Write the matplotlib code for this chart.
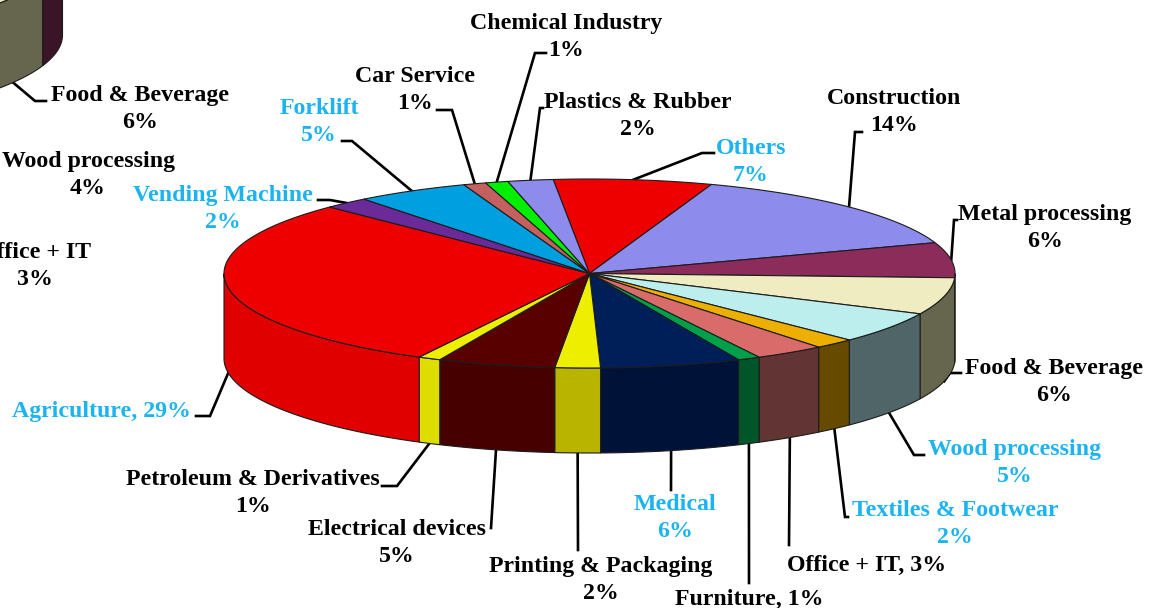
# -*- coding: utf-8 -*-
import numpy as np
import matplotlib
matplotlib.use("Agg")
import matplotlib.pyplot as plt
from matplotlib.patches import Polygon

# Main pie, clockwise from the Others slice
categories = ["Others", "Construction", "Metal processing", "Food & Beverage",
              "Wood processing", "Textiles & Footwear", "Office + IT", "Furniture",
              "Medical", "Printing & Packaging", "Electrical devices",
              "Petroleum & Derivatives", "Agriculture", "Vending Machine",
              "Forklift", "Car Service", "Chemical Industry", "Plastics & Rubber"]
shares = [7.0, 14.3, 6.0, 6.3, 5.4, 1.8, 3.1, 1.0, 6.2, 2.0, 5.2, 1.0, 29.7,
          2.0, 5.0, 1.0, 1.0, 2.0]
shown_pct = [7, 14, 6, 6, 5, 2, 3, 1, 6, 2, 5, 1, 29, 2, 5, 1, 1, 2]

# Second pie, cut off by the top left corner; only these slices show
inset_categories = ["Metal processing", "Food & Beverage"]
inset_shares = [6.0, 6.2]
extra_labels = ["Wood processing\n4%", "Office + IT\n3%"]

top_colors = ["#ee0000", "#8d8bec", "#8b2c5a", "#eeecc0", "#bdeeee", "#eeb000",
              "#da6b6b", "#00a04a", "#001e58", "#eeee00", "#580000", "#eeee00",
              "#ee0000", "#6a2a98", "#00a0e0", "#c46060", "#00ee00", "#8d8bec"]
side_colors = ["#a00000", "#5e5c9e", "#3a1528", "#66664f", "#506568", "#654a00",
               "#633434", "#00552a", "#001238", "#b8b400", "#470000", "#dddd00",
               "#e00000", "#471c66", "#006b96", "#834040", "#009f00", "#5e5c9e"]
inset_top = ["#8b2c5a", "#eeecc0"]
inset_side = ["#3a1528", "#66664f"]

BLUE = "#1cb4f0"
FONT_SIZE = 17.2
LINE_GAP = 1.38
blue_labels = ["Others", "Wood processing", "Textiles & Footwear", "Medical",
               "Agriculture", "Vending Machine", "Forklift"]

# label centres and leader elbows, in image pixels
label_pos = {"Others": (751, 162), "Construction": (894, 112),
             "Metal processing": (1045, 228), "Food & Beverage": (1054, 382),
             "Wood processing": (1015, 463), "Textiles & Footwear": (955, 524),
             "Office + IT": (867, 565), "Furniture": (749, 599), "Medical": (675, 518),
             "Printing & Packaging": (601, 580), "Electrical devices": (397, 543),
             "Petroleum & Derivatives": (253, 493), "Agriculture": (101, 411),
             "Vending Machine": (223, 209), "Forklift": (319, 122),
             "Car Service": (415, 90), "Chemical Industry": (566, 37),
             "Plastics & Rubber": (638, 116)}
one_line = ["Office + IT", "Furniture", "Agriculture"]
leaders = {"Others": [(702, 153), (714, 153)], "Construction": [(855, 132), (862, 132)],
           "Metal processing": [(954, 220), (957, 220)],
           "Food & Beverage": [(950, 373), (961, 373)],
           "Wood processing": [(914, 455), (924, 455)],
           "Textiles & Footwear": [(845, 517), (848, 517)],
           "Office + IT": [(789, 545)], "Furniture": [(749, 583)], "Medical": [(671, 490)],
           "Printing & Packaging": [(578, 550)], "Electrical devices": [(491, 528)],
           "Petroleum & Derivatives": [(397, 486), (382, 486)],
           "Agriculture": [(210, 416), (196, 416)],
           "Vending Machine": [(330, 200), (318, 200)], "Forklift": [(352, 141), (342, 141)],
           "Car Service": [(452, 110), (437, 110)], "Chemical Industry": [(535, 53), (546, 53)],
           "Plastics & Rubber": [(540, 108), (543, 108)]}

plt.rcParams["font.family"] = ["Liberation Serif", "DejaVu Serif"]

fig = plt.figure(figsize=(11.49, 6.08), dpi=100)
ax = fig.add_axes([0, 0, 1, 1])
ax.set_xlim(0, 1149)
ax.set_ylim(608, 0)
ax.axis("off")


def slice_edges(values, start):
    # angle limits of each slice, going clockwise
    edges = start - np.cumsum([0] + list(values)) * 3.6
    return edges[:-1], edges[1:]


def rim(t, cx, cy, a, b):
    r = np.deg2rad(t)
    return cx + a * np.cos(r), cy - b * np.sin(r)


def draw_pie(values, start, tops, sides, cx, cy, a, b, depth):
    t0, t1 = slice_edges(values, start)

    # front wall, only the part below the horizontal axis shows
    for i in range(len(values)):
        hi = (t0[i] + 180) % 360 - 180
        lo = hi - (t0[i] - t1[i])
        pieces = [(min(hi, 0), max(lo, -180))]
        if lo < -180:
            pieces.append((min(hi + 360, 0), lo + 360))
        for p_hi, p_lo in pieces:
            if p_hi <= p_lo:
                continue
            t = np.linspace(p_hi, p_lo, 60)
            x, y = rim(t, cx, cy, a, b)
            pts = np.column_stack([np.r_[x, x[::-1]], np.r_[y, y[::-1] + depth]])
            ax.add_patch(Polygon(pts, closed=True, facecolor=sides[i], edgecolor="#1c1c1c",
                                 linewidth=0.8, zorder=2))

    # top face
    for i in range(len(values)):
        t = np.linspace(t0[i], t1[i], 80)
        x, y = rim(t, cx, cy, a, b)
        pts = np.column_stack([np.r_[cx, x], np.r_[cy, y]])
        ax.add_patch(Polygon(pts, closed=True, facecolor=tops[i], edgecolor="#1c1c1c",
                             linewidth=0.8, zorder=3))
    return (t0 + t1) / 2


def leader_start(t, cx, cy, a, b, depth):
    x, y = rim(t, cx, cy, a, b)
    if np.sin(np.deg2rad(t)) < 0:
        y = y + depth
    return x, y


cx, cy, a, b, depth = 589.5, 273.5, 365.5, 94.5, 85
mids = draw_pie(shares, 95.7, top_colors, side_colors, cx, cy, a, b, depth)

inset = (-303, -50, 365.5, 94.5, 85)
inset_mids = draw_pie(inset_shares, 2.6, inset_top, inset_side, *inset[:4], inset[4])

for i, name in enumerate(categories):
    x0, y0 = leader_start(mids[i], cx, cy, a, b, depth)
    pts = [(x0, y0)] + leaders[name]
    ax.plot([p[0] for p in pts], [p[1] for p in pts], color="black", lw=1.9,
            solid_joinstyle="miter", zorder=1)
    if name in one_line:
        txt = f"{name}, {shown_pct[i]}%"
    else:
        txt = f"{name}\n{shown_pct[i]}%"
    ax.text(label_pos[name][0], label_pos[name][1], txt, ha="center", va="center",
            ma="center", fontsize=FONT_SIZE, fontweight="bold", linespacing=LINE_GAP,
            color=BLUE if name in blue_labels else "black", zorder=5)

# labels belonging to the cut off pie
x0, y0 = leader_start(inset_mids[1], *inset)
ax.plot([x0, 35, 46], [y0, 101, 101], color="black", lw=1.9, zorder=1)
ax.text(140, 109, "Food & Beverage\n6%", ha="center", va="center", ma="center",
        fontsize=FONT_SIZE, fontweight="bold", linespacing=LINE_GAP, zorder=5)
ax.text(88, 175, extra_labels[0], ha="center", va="center", ma="center",
        fontsize=FONT_SIZE, fontweight="bold", linespacing=LINE_GAP, zorder=5)
ax.text(35, 266, extra_labels[1], ha="center", va="center", ma="center",
        fontsize=FONT_SIZE, fontweight="bold", linespacing=LINE_GAP, zorder=5)

fig.savefig("out.png", dpi=100)
